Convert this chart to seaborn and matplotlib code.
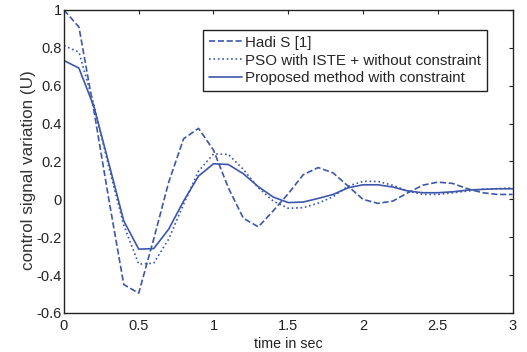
import numpy as np
import pandas as pd
import matplotlib
matplotlib.use("Agg")
import matplotlib.pyplot as plt
import seaborn as sns

time = [0.0, 0.1, 0.2, 0.3, 0.4, 0.5, 0.6, 0.7, 0.8, 0.9, 1.0, 1.1, 1.2, 1.3, 1.4, 1.5,
        1.6, 1.7, 1.8, 1.9, 2.0, 2.1, 2.2, 2.3, 2.4, 2.5, 2.6, 2.7, 2.8, 2.9, 3.0]
hadi = [1.0, 0.91, 0.47, 0.0, -0.45, -0.495, -0.21, 0.09, 0.32, 0.375, 0.26, 0.06, -0.10, -0.145, -0.06, 0.03,
        0.13, 0.168, 0.14, 0.07, 0.0, -0.021, -0.009, 0.035, 0.075, 0.091, 0.084, 0.056, 0.035, 0.026, 0.026]
pso = [0.812, 0.777, 0.50, 0.17, -0.137, -0.342, -0.337, -0.21, -0.026, 0.149, 0.24, 0.237, 0.158, 0.061, -0.009, -0.047,
       -0.044, -0.02, 0.014, 0.07, 0.095, 0.095, 0.074, 0.044, 0.026, 0.026, 0.035, 0.044, 0.053, 0.056, 0.061]
proposed = [0.733, 0.693, 0.49, 0.19, -0.114, -0.263, -0.26, -0.158, -0.009, 0.123, 0.188, 0.184, 0.135, 0.067, 0.012, -0.017,
            -0.014, 0.005, 0.026, 0.061, 0.077, 0.077, 0.065, 0.044, 0.035, 0.035, 0.04, 0.049, 0.053, 0.056, 0.056]
labels = ["Hadi S [1]", "PSO with ISTE + without constraint", "Proposed method with constraint"]
x_ticks = [0, 0.5, 1, 1.5, 2, 2.5, 3]
x_tick_labels = ["0", "0.5", "1", "1.5", "2", "2.5", "3"]
y_ticks = [-0.6, -0.4, -0.2, 0, 0.2, 0.4, 0.6, 0.8, 1]
y_tick_labels = ["-0.6", "-0.4", "-0.2", "0", "0.2", "0.4", "0.6", "0.8", "1"]

sns.set_theme(style="white")
plt.rcParams['font.family'] = ['Liberation Sans', 'DejaVu Sans']

df = pd.DataFrame({"time": time * 3,
                   "value": hadi + pso + proposed,
                   "series": [labels[0]] * len(time) + [labels[1]] * len(time) + [labels[2]] * len(time)})

fig = plt.figure(figsize=(5.27, 3.52), dpi=100)
ax = fig.add_axes([0.1214, 0.1108, 0.8511, 0.8608])

color = "#3D57AC"
styles = ["--", ":", "-"]
for lab, ls in zip(labels, styles):
    sub = df[df["series"] == lab]
    sns.lineplot(data=sub, x="time", y="value", ax=ax, color=color, linestyle=ls,
                 linewidth=1.2, label=lab, sort=False)

ax.set_xlim(0, 3)
ax.set_ylim(-0.6, 1)
ax.set_xticks(x_ticks)
ax.set_xticklabels(x_tick_labels)
ax.set_yticks(y_ticks)
ax.set_yticklabels(y_tick_labels)
ax.tick_params(direction="in", length=3, width=0.8, top=True, right=True,
               labelsize=10.5, colors="#222222")
ax.tick_params(axis="x", pad=4)
ax.tick_params(axis="y", pad=1.5)
for sp in ax.spines.values():
    sp.set_visible(True)
    sp.set_color("#222222")
    sp.set_linewidth(1.0)
ax.set_xlabel("time in sec", fontsize=10.3, color="#222222", labelpad=3)
ax.set_ylabel("control signal variation (U)", fontsize=12.3, color="#333333")
ax.yaxis.set_label_coords(-0.062, 0.47)

leg = ax.legend(loc="upper left", bbox_to_anchor=(0.31, 0.935), borderaxespad=0,
                frameon=True, fancybox=False, edgecolor="#222222", framealpha=1,
                fontsize=10.9, handlelength=2.2, handletextpad=0.2, labelspacing=0.25,
                borderpad=0.4)
leg.get_frame().set_linewidth(1.0)

fig.savefig("out.png", dpi=100)
